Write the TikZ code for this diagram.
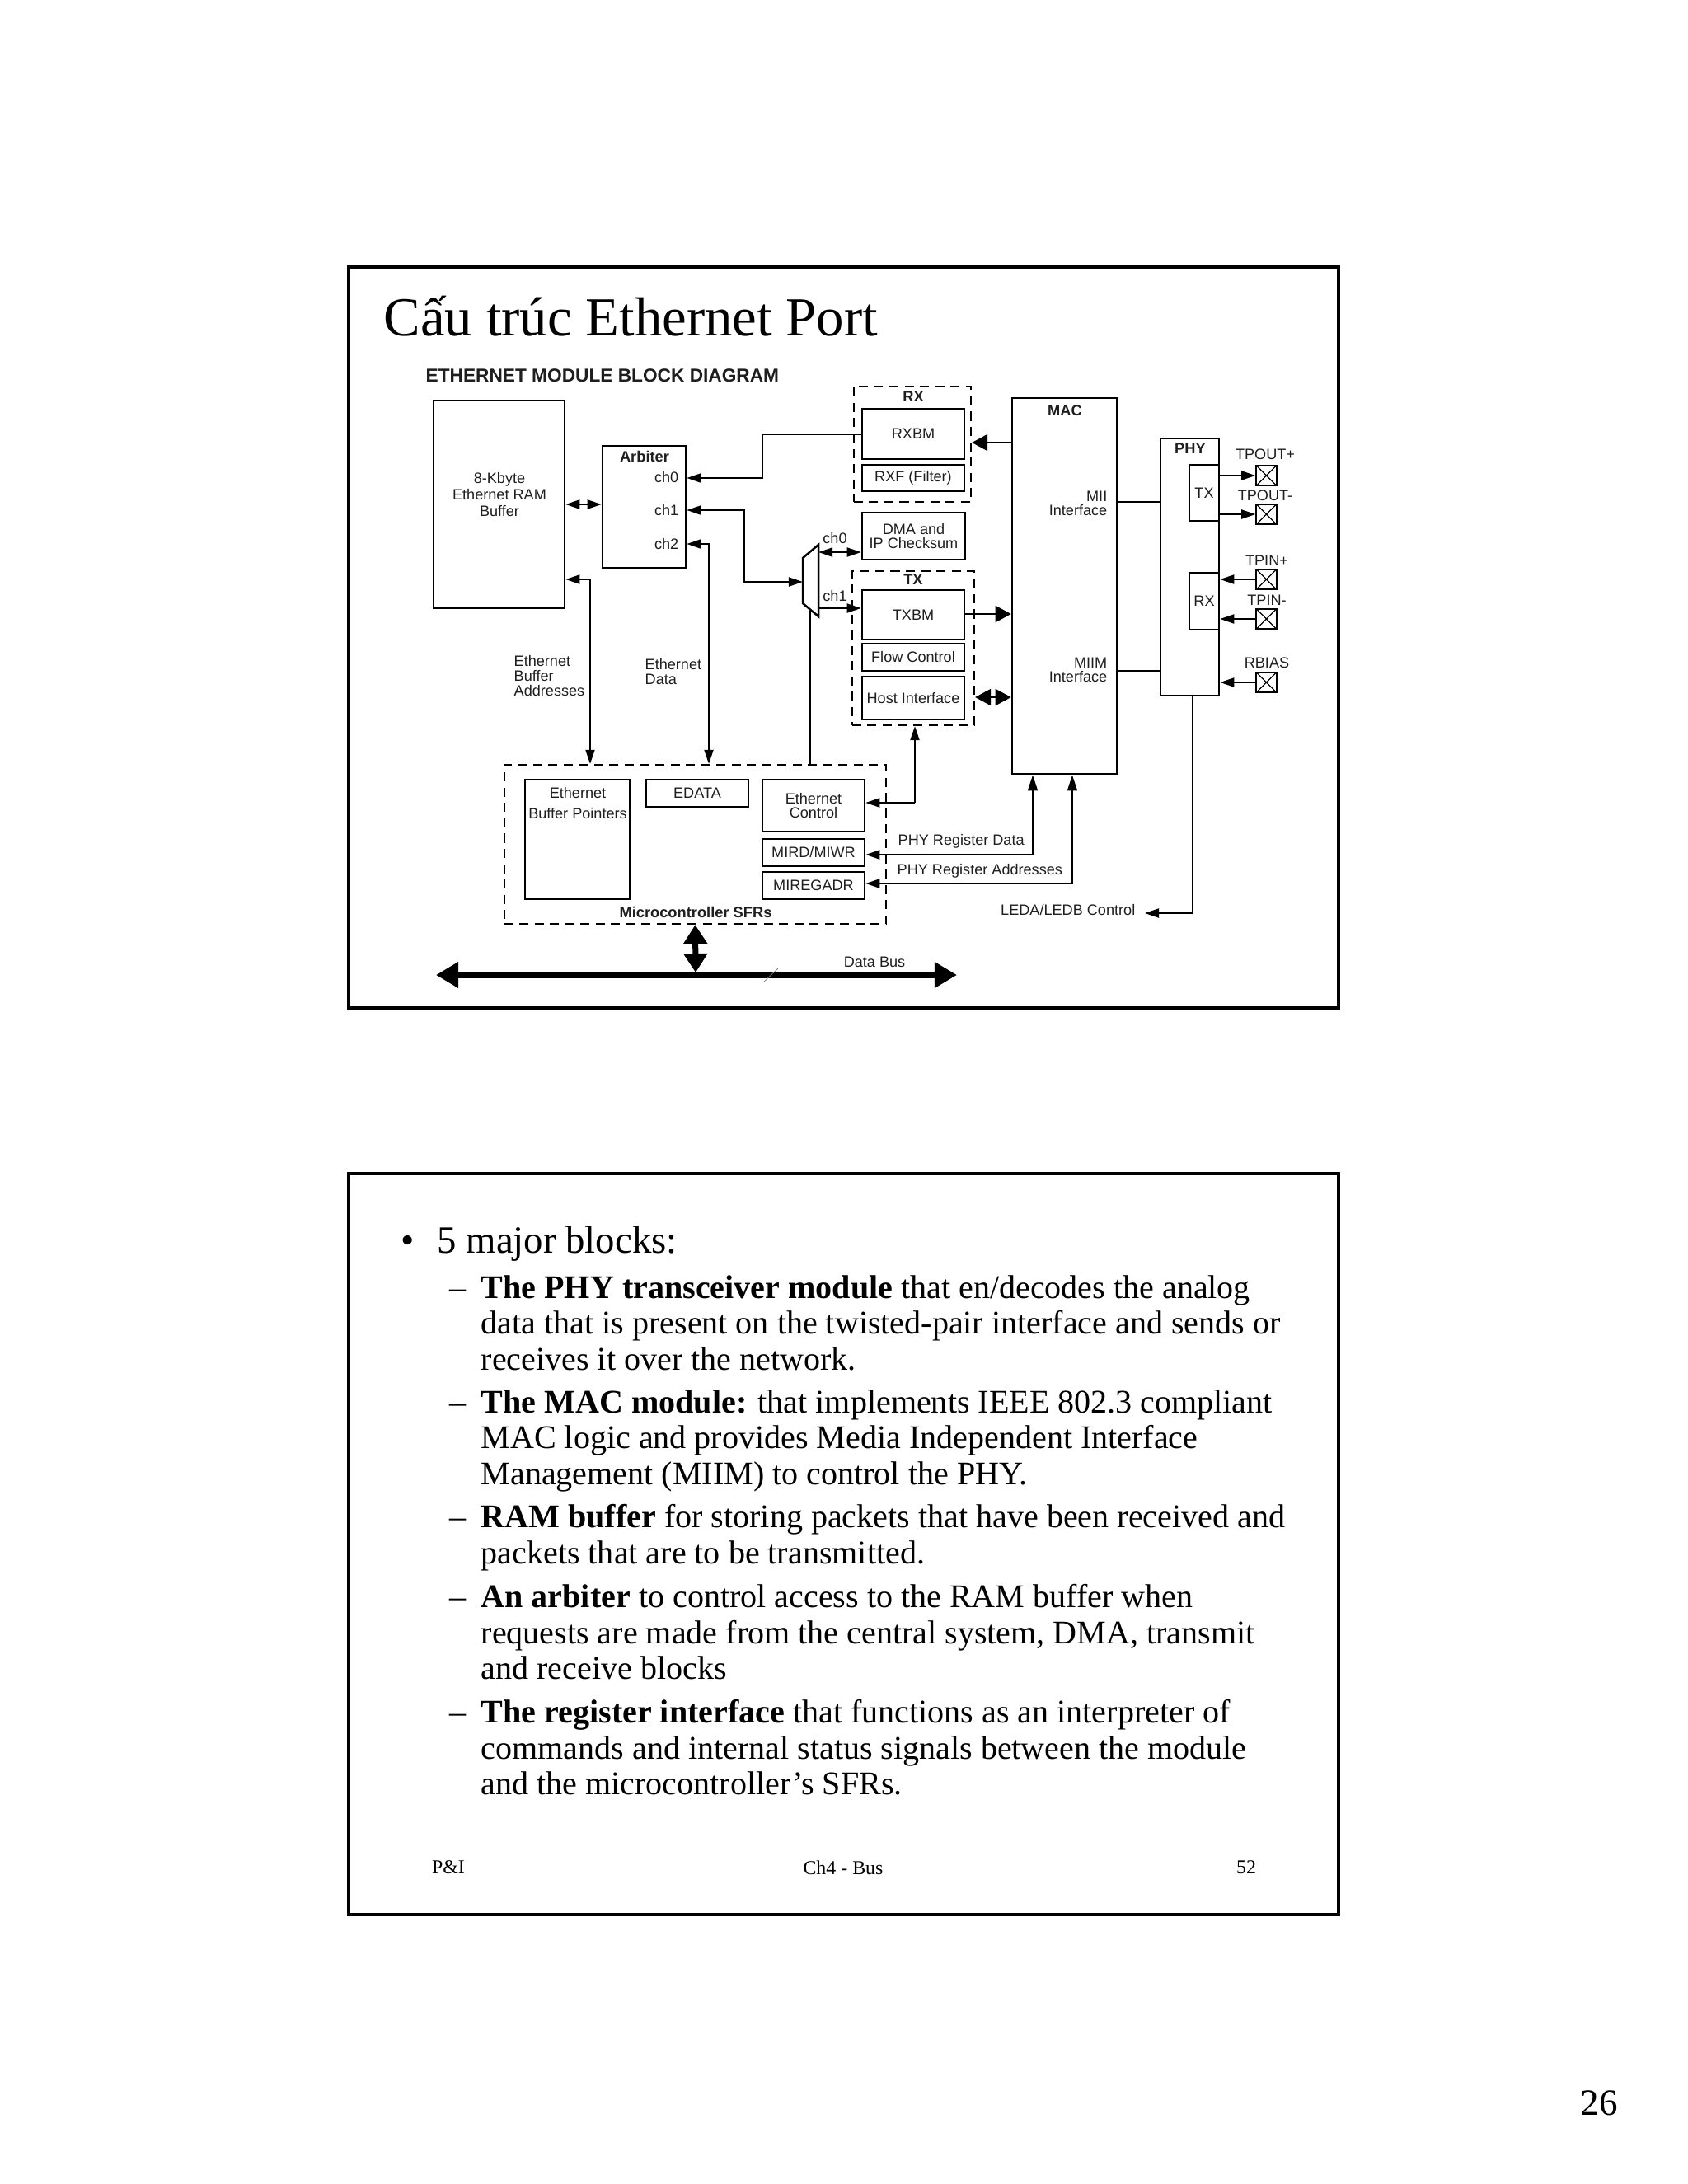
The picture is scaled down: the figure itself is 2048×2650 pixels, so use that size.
\documentclass[tikz,border=0pt]{standalone}
\usepackage{fontspec}
\setmainfont{Liberation Serif}
\newfontfamily\diagfont{Liberation Sans}
\usetikzlibrary{arrows.meta}
\definecolor{inkGray}{RGB}{30,30,30}
\tikzset{
    blockbox/.style={draw=black, line width=0.025cm, inner sep=0pt, align=center, font=\diagfont\fontsize{5.15}{5}\selectfont, text=inkGray},
    dashbox/.style={draw=black, line width=0.022cm, dash pattern=on 0.11cm off 0.075cm, inner sep=0pt},
    sigtext/.style={inner sep=0pt, align=center, font=\diagfont\fontsize{5.15}{5}\selectfont, text=inkGray},
    boldtext/.style={sigtext, font=\diagfont\bfseries\fontsize{5.2}{5.5}\selectfont},
    padbox/.style={draw=black, line width=0.02cm, minimum size=0.245cm, inner sep=0pt,
        path picture={\draw[line width=0.012cm] (path picture bounding box.north west) -- (path picture bounding box.south east)
            (path picture bounding box.north east) -- (path picture bounding box.south west);}},
    slideframe/.style={draw=black, line width=0.04cm, minimum width=12.00cm, minimum height=8.99cm, inner sep=0pt},
    wire/.style={draw=black, line width=0.02cm},
    thintip/.style={wire, -{Triangle[length=0.17cm,width=0.11cm]}},
    thinboth/.style={wire, {Triangle[length=0.17cm,width=0.11cm]}-{Triangle[length=0.17cm,width=0.11cm]}},
    regtip/.style={wire, {Triangle[length=0.19cm,width=0.12cm]}-{Triangle[length=0.17cm,width=0.11cm]}},
    bigtip/.style={wire, -{Triangle[length=0.19cm,width=0.2cm]}},
    bodytext/.style={inner sep=0pt, align=left, anchor=north west, font=\fontsize{11.39}{12.35}\selectfont},
    foottext/.style={inner sep=0pt, font=\fontsize{6.8}{8}\selectfont},
}
\begin{document}
\begin{tikzpicture}[x=0.01cm, y=-0.01cm]
    \useasboundingbox (0,0) rectangle (2048,2650);
    % slide frames
    \node[slideframe] (topslide) at (1023.5,773.5) {};
    \node[slideframe] (lowslide) at (1023.5,1873.5) {};
    \node[inner sep=0pt, anchor=base west, font=\fontsize{19}{21}\selectfont] (slidetitle) at (465,407) {Cấu trúc Ethernet Port};
    \node[boldtext, anchor=west, font=\diagfont\bfseries\fontsize{6.45}{7}\selectfont] (diagtitle) at (516,456) {ETHERNET MODULE BLOCK DIAGRAM};

    % left side blocks
    \node[blockbox, minimum width=1.59cm, minimum height=2.52cm] (rambuf) at (605.5,612) {};
    \node[sigtext, font=\diagfont\fontsize{5.15}{5.8}\selectfont] (ramtext) at (606,600) {8-Kbyte\\Ethernet RAM\\Buffer};
    \node[blockbox, minimum width=1.01cm, minimum height=1.48cm] (arbiter) at (781.5,615) {};
    \node[boldtext] (arbname) at (782,554) {Arbiter};
    \node[sigtext, anchor=east] (archa) at (824,579) {ch0};
    \node[sigtext, anchor=east] (archb) at (824,619) {ch1};
    \node[sigtext, anchor=east] (archc) at (824,660) {ch2};

    % rx and tx groups
    \node[dashbox, minimum width=1.42cm, minimum height=1.40cm] (rxgroup) at (1107,539) {};
    \node[boldtext] (rxname) at (1108,481) {RX};
    \node[blockbox, minimum width=1.24cm, minimum height=0.61cm] (rxbm) at (1108,526.5) {RXBM};
    \node[blockbox, minimum width=1.24cm, minimum height=0.32cm] (rxf) at (1108,580) {RXF (Filter)};
    \node[blockbox, minimum width=1.25cm, minimum height=0.57cm] (dmabox) at (1108.5,650.5) {DMA and\\IP Checksum};
    \node[dashbox, minimum width=1.48cm, minimum height=1.87cm] (txgroup) at (1108,786.5) {};
    \node[boldtext] (txname) at (1108,703) {TX};
    \node[blockbox, minimum width=1.24cm, minimum height=0.60cm] (txbm) at (1108,746) {TXBM};
    \node[blockbox, minimum width=1.24cm, minimum height=0.33cm] (flowbox) at (1108,797.5) {Flow Control};
    \node[blockbox, minimum width=1.24cm, minimum height=0.52cm] (hostbox) at (1108,847) {Host Interface};

    % mux between arbiter and tx
    \draw[wire, line width=0.025cm] (974,677) -- (993,661) -- (993,748) -- (974,732) -- cycle;
    \coordinate (muxin) at (974,706);
    \coordinate (muxtop) at (993,670);
    \coordinate (muxlow) at (993,738);
    \coordinate (muxfoot) at (983,741);
    \node[sigtext] (muxcha) at (1013,653) {ch0};
    \node[sigtext] (muxchb) at (1013,723) {ch1};

    % mac and phy
    \node[blockbox, minimum width=1.27cm, minimum height=4.56cm] (macbox) at (1291.5,711) {};
    \node[boldtext] (macname) at (1292,498) {MAC};
    \node[sigtext, align=right, anchor=east] (miitext) at (1344,611) {MII\\Interface};
    \node[sigtext, align=right, anchor=east] (miimtext) at (1344,813) {MIIM\\Interface};
    \node[blockbox, minimum width=0.71cm, minimum height=3.12cm] (phybox) at (1443.5,688) {};
    \node[boldtext] (phyname) at (1444,544) {PHY};
    \node[blockbox, minimum width=0.36cm, minimum height=0.68cm] (phytx) at (1461,598) {TX};
    \node[blockbox, minimum width=0.36cm, minimum height=0.69cm] (phyrx) at (1461,729.5) {RX};

    % pads
    \node[padbox] (padtpa) at (1536.5,577) {};
    \node[padbox] (padtpb) at (1536.5,624) {};
    \node[padbox] (padtpc) at (1536.5,703) {};
    \node[padbox] (padtpd) at (1536.5,751) {};
    \node[padbox] (padbias) at (1536.5,828) {};
    \node[sigtext] (tpoutp) at (1535,551) {TPOUT+};
    \node[sigtext] (tpoutm) at (1535,601) {TPOUT-};
    \node[sigtext] (tpinp) at (1537,680) {TPIN+};
    \node[sigtext] (tpinm) at (1537,728) {TPIN-};
    \node[sigtext] (rbias) at (1537,804) {RBIAS};

    % microcontroller sfrs
    \node[dashbox, minimum width=4.63cm, minimum height=1.93cm] (sfrgroup) at (843.5,1024.5) {};
    \node[blockbox, minimum width=1.27cm, minimum height=1.45cm] (bufptr) at (700.5,1018.5) {};
    \node[sigtext] (bufptrtext) at (701,962) {Ethernet};
    \node[sigtext] (bufptrmore) at (701,987) {Buffer Pointers};
    \node[blockbox, minimum width=1.24cm, minimum height=0.33cm] (edatabox) at (846,962.5) {EDATA};
    \node[blockbox, minimum width=1.24cm, minimum height=0.63cm] (ctrlbox) at (987,977.5) {Ethernet\\Control};
    \node[blockbox, minimum width=1.24cm, minimum height=0.33cm] (mirdbox) at (987,1034.5) {MIRD/MIWR};
    \node[blockbox, minimum width=1.24cm, minimum height=0.33cm] (regbox) at (987,1074.5) {MIREGADR};
    \node[boldtext] (sfrname) at (844,1107) {Microcontroller SFRs};

    % free labels
    \node[sigtext, align=left, anchor=north west] (addrlabel) at (623,795) {Ethernet\\Buffer\\Addresses};
    \node[sigtext, align=left, anchor=north west] (datalabel) at (782,799) {Ethernet\\Data};
    \node[sigtext, anchor=west] (phydatatext) at (1089,1021) {PHY Register Data};
    \node[sigtext, anchor=west] (phyaddrtext) at (1088,1057) {PHY Register Addresses};
    \node[sigtext, anchor=east] (ledatext) at (1378,1104) {LEDA/LEDB Control};
    \node[sigtext] (buslabel) at (1061,1167) {Data Bus};

    % connectors
    \coordinate (rxturn) at (925,580);
    \coordinate (chturn) at (903,706);
    \coordinate (ramport) at (716,703);
    \coordinate (chcturn) at (860,660);
    \coordinate (hostturn) at (1110,974);
    \coordinate (regdataturn) at (1253,1037);
    \coordinate (regaddrturn) at (1301,1072);
    \coordinate (ledaturn) at (1447,1108);
    \coordinate (ledatip) at (1389,1108);
    \draw[thinboth] (rambuf.east |- 0,612) -- (arbiter.west |- 0,612);
    \draw[thintip] (rxbm.west) -| (rxturn) -- (arbiter.east |- rxturn);
    \draw[thinboth] (arbiter.east |- archb) -| (chturn) -- (muxin);
    \draw[thinboth] (muxtop) -- (dmabox.west |- muxtop);
    \draw[thintip] (muxlow) -- (txbm.west |- muxlow);
    \draw[thinboth] (arbiter.east |- chcturn) -| (sfrgroup.north -| chcturn);
    \draw[thinboth] (rambuf.east |- ramport) -| (sfrgroup.north -| ramport);
    \draw[wire] (muxfoot) -- (sfrgroup.north -| muxfoot);
    \draw[thintip] (hostturn) -- (txgroup.south -| hostturn);
    \draw[thintip] (hostturn) -- (ctrlbox.east |- hostturn);
    \draw[bigtip] (macbox.west |- 0,537) -- (rxgroup.east |- 0,537);
    \draw[bigtip] (txbm.east |- 0,745) -- (macbox.west |- 0,745);
    \draw[wire, {Triangle[length=0.19cm,width=0.2cm]}-{Triangle[length=0.19cm,width=0.2cm]}] (txgroup.east |- 0,846) -- (macbox.west |- 0,846);
    \draw[wire] (macbox.east |- 0,609) -- (phybox.west |- 0,609);
    \draw[wire] (macbox.east |- 0,814) -- (phybox.west |- 0,814);
    \draw[thintip] (phybox.east |- padtpa) -- (padtpa);
    \draw[thintip] (phybox.east |- padtpb) -- (padtpb);
    \draw[thintip] (padtpc) -- (phybox.east |- padtpc);
    \draw[thintip] (padtpd) -- (phybox.east |- padtpd);
    \draw[thintip] (padbias) -- (phybox.east |- padbias);
    \draw[regtip] (macbox.south -| regdataturn) -- (regdataturn) -- (mirdbox.east |- regdataturn);
    \draw[regtip] (macbox.south -| regaddrturn) -- (regaddrturn) -- (regbox.east |- regaddrturn);
    \draw[thintip] (phybox.south -| ledaturn) -- (ledaturn) -- (ledatip);

    % data bus
    \coordinate (busleft) at (529,1183);
    \coordinate (busright) at (1161,1183);
    \coordinate (busjoin) at (844,1180);
    \draw[line width=0.08cm, {Triangle[length=0.27cm,width=0.3cm]}-{Triangle[length=0.27cm,width=0.3cm]}] (busleft) -- (busright);
    \draw[line width=0.07cm, {Triangle[length=0.23cm,width=0.28cm]}-{Triangle[length=0.23cm,width=0.28cm]}] (sfrgroup.south) -- (busjoin);
    \draw[gray, line width=0.008cm] (926,1192) -- (944,1175);

    % notes text
    \node[bodytext, font=\fontsize{13.3}{14}\selectfont] (bullethead) at (530,1487) {\llap{•\hspace{0.6em}}5 major blocks:};
    \node[bodytext] (itemphy) at (583,1547) {\llap{–\hspace{0.45em}}\textbf{The PHY transceiver module} that en/decodes the analog\\data that is present on the twisted-pair interface and sends or\\receives it over the network.};
    \node[bodytext] (itemmac) at (583,1686) {\llap{–\hspace{0.45em}}\textbf{The MAC module:} that implements IEEE 802.3 compliant\\MAC logic and provides Media Independent Interface\\Management (MIIM) to control the PHY.};
    \node[bodytext] (itemram) at (583,1825) {\llap{–\hspace{0.45em}}\textbf{RAM buffer} for storing packets that have been received and\\packets that are to be transmitted.};
    \node[bodytext] (itemarb) at (583,1922) {\llap{–\hspace{0.45em}}\textbf{An arbiter} to control access to the RAM buffer when\\requests are made from the central system, DMA, transmit\\and receive blocks};
    \node[bodytext] (itemreg) at (583,2062) {\llap{–\hspace{0.45em}}\textbf{The register interface} that functions as an interpreter of\\commands and internal status signals between the module\\and the microcontroller’s SFRs.};
    \node[foottext] (footleft) at (544,2266) {P\&I};
    \node[foottext] (footmid) at (1023,2266) {Ch4 - Bus};
    \node[foottext] (footright) at (1512,2266) {52};
    \node[inner sep=0pt, font=\fontsize{12.8}{14}\selectfont] (pagenum) at (1940,2552) {26};
\end{tikzpicture}
\end{document}
